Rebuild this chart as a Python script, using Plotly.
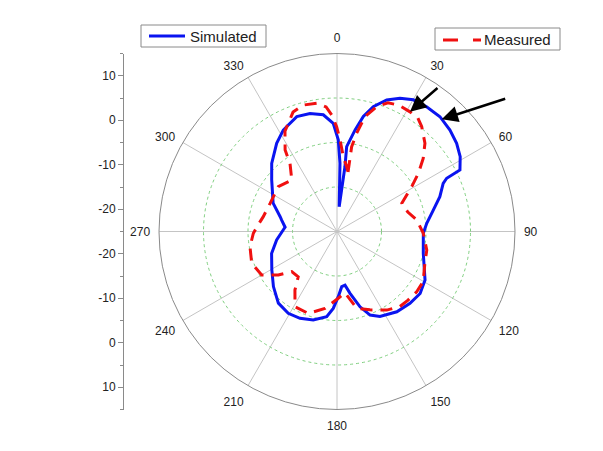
import plotly.graph_objects as go

# Radial scale (dB): centre and outer ring
R_MIN = -25
R_MAX = 15
GRID_R = [-15, -5, 5]

ANGLE_TICKS = [0, 30, 60, 90, 120, 150, 180, 210, 240, 270, 300, 330]

# Left axis (mirrored radial scale)
LEFT_TICK_OFFSETS = [35, 25, 15, 5, -5, -15, -25, -35]
LEFT_TICK_TEXT = ["10", "0", "-10", "-20", "-20", "-10", "0", "10"]
LEFT_MINOR = [-40, -30, -20, -10, 0, 10, 20, 30, 40]

# Simulated pattern (theta deg, dB)
SIM_THETA = [5, 7.0, 6.5, 10.1, 12.9, 16.2, 20.7, 25.3, 30.1, 35.7, 41.9, 48.1,
             53.6, 58.7, 63.4, 64.1, 65.6, 71.3, 77.4, 84.8, 91.2, 104.2, 118.9,
             126.7, 134.5, 143.3, 153.2, 158.4, 163.0, 168.1, 171.5, 175.1, 178.9,
             182.8, 186.9, 195.0, 203.1, 210.8, 219.3, 229.1, 239.5, 251.5, 262.0,
             271.6, 274.7, 281.7, 284.6, 293.9, 308.3, 316.2, 325.6, 332.1, 340.7,
             347.1, 353.3, 358.0, 0.8, 2.5, 5]
SIM_R = [-19.4, -10.3, -5.8, -1.8, 1.5, 4.2, 6.6, 8.1, 9.2, 9.5, 9.65, 9.1,
         8.4, 7.4, 5.9, 2.4, 1.2, -0.6, -2.8, -4.75, -5.6, -5.0, -2.4,
         -1.7, -2.0, -2.5, -3.6, -4.8, -7.3, -10.8, -12.8, -12.55, -10.35,
         -7.7, -5.7, -4.4, -3.8, -3.6, -4.2, -6.1, -8.0, -9.5, -11.3,
         -12.9, -13.3, -12.3, -11.8, -9.3, -6.3, -3.8, -1.0, 0.8, 2.35,
         2.2, 1.4, -0.7, -4.4, -9.65, -19.4]

# Measured pattern (theta deg, dB)
MEAS_THETA = [10.5, 9.8, 11.3, 13.7, 17.6, 21.6, 25.9, 31.4, 35.5, 38.9, 44.9,
              49.7, 54.4, 59.0, 66.4, 74.6, 81.8, 91.2, 101.7, 109.9, 120.2,
              127.1, 134.0, 140.0, 147.7, 157.2, 165.6, 172.6, 178.9, 188.9,
              199.3, 209.2, 215.7, 220.6, 228.4, 233.5, 240.0, 249.6, 260.1,
              268.8, 274.7, 281.4, 292.8, 307.3, 318.7, 325.4, 327.5, 332.6,
              339.8, 345.1, 351.0, 355.0, 357.4, 359.8, 1.9, 4.8, 8.5, 10.5]
MEAS_R = [-11.4, -5.65, -2.5, 1.55, 4.4, 6.1, 6.6, 6.5, 6.3, 5.3, 3.0,
          0.4, -2.5, -5.4, -9.1, -8.5, -6.9, -5.6, -4.4, -4.0, -2.6,
          -2.55, -2.8, -3.0, -4.1, -5.9, -7.2, -11.1, -10.0, -7.5,
          -5.5, -5.65, -8.8, -11.6, -11.4, -8.6, -5.45, -4.55, -5.15,
          -6.2, -7.2, -8.1, -8.7, -8.4, -9.6, -6.4, -3.3, 0.4,
          3.6, 4.4, 4.2, 3.1, 1.2, -1.45, -4.4, -8.1, -10.3, -11.4]

SERIES_NAMES = ["Simulated", "Measured"]
BLUE = "#0a14f0"
RED = "#f01010"

# page body has an 8px margin; figure sized to fit the 603x451 window
OX, OY = 8, 8
W, H = 603 - 2 * OX, 451 - 2 * OY
CX, CY, RAD = 337, 231.5, 178
FONT = "Liberation Sans, Arial, sans-serif"


def px(x):
    return (x - OX) / W


def py(y):
    return 1 - (y - OY) / H


fig = go.Figure()
fig.add_trace(go.Scatterpolar(theta=SIM_THETA, r=SIM_R, mode="lines", name=SERIES_NAMES[0],
                              line=dict(color=BLUE, width=3), showlegend=False))
fig.add_trace(go.Scatterpolar(theta=MEAS_THETA, r=MEAS_R, mode="lines", name=SERIES_NAMES[1],
                              line=dict(color=RED, width=3, dash="12px,8px"),
                              showlegend=False))
# helper so the cartesian (left) axis is rendered
fig.add_trace(go.Scatter(x=[None], y=[None], showlegend=False, hoverinfo="skip"))

shapes = [
    # legend boxes
    dict(type="rect", xref="paper", yref="paper", x0=px(141), x1=px(266), y0=py(47), y1=py(25),
         line=dict(color="#8a8a8a", width=1), fillcolor="white"),
    dict(type="line", xref="paper", yref="paper", x0=px(149), x1=px(185), y0=py(36), y1=py(36),
         line=dict(color=BLUE, width=3)),
    dict(type="rect", xref="paper", yref="paper", x0=px(435), x1=px(560), y0=py(50), y1=py(28),
         line=dict(color="#8a8a8a", width=1), fillcolor="white"),
    dict(type="line", xref="paper", yref="paper", x0=px(443), x1=px(481), y0=py(40), y1=py(40),
         line=dict(color=RED, width=3, dash="15px,15px")),
]

annotations = [
    dict(x=px(188), y=py(36), xref="paper", yref="paper", text=SERIES_NAMES[0],
         showarrow=False, xanchor="left", yanchor="middle",
         font=dict(family=FONT, size=15, color="#222")),
    dict(x=px(482), y=py(39.5), xref="paper", yref="paper", text=SERIES_NAMES[1],
         showarrow=False, xanchor="left", yanchor="middle",
         font=dict(family=FONT, size=15, color="#222")),
    dict(x=px(410), y=py(111.7), xref="paper", yref="paper", text="",
         showarrow=True, ax=29, ay=-25, arrowhead=2, arrowsize=1.3,
         arrowwidth=2.5, arrowcolor="black"),
    dict(x=px(441.7), y=py(119.3), xref="paper", yref="paper", text="",
         showarrow=True, ax=65, ay=-21, arrowhead=2, arrowsize=1.3,
         arrowwidth=2.5, arrowcolor="black"),
]

fig.update_layout(
    width=W, height=H, autosize=False,
    margin=dict(l=0, r=0, t=0, b=0),
    paper_bgcolor="white", plot_bgcolor="rgba(0,0,0,0)",
    font=dict(family=FONT, size=12, color="#222"),
    showlegend=False,
    polar=dict(
        domain=dict(x=[px(CX - RAD), px(CX + RAD)],
                    y=[py(CY + RAD), py(CY - RAD)]),
        bgcolor="white",
        radialaxis=dict(range=[R_MIN, R_MAX], tickvals=GRID_R, showticklabels=False,
                        ticks="", showline=False, gridcolor="#7fcf7f", griddash="dot",
                        gridwidth=1),
        angularaxis=dict(direction="clockwise", rotation=90, tickvals=ANGLE_TICKS,
                         ticktext=[str(a) for a in ANGLE_TICKS], ticks="outside",
                         ticklen=6, tickcolor="rgba(0,0,0,0)",
                         showline=True, linecolor="#8a8a8a", linewidth=1,
                         gridcolor="#c4c4c4", gridwidth=1,
                         tickfont=dict(family=FONT, size=12, color="#222")),
    ),
    xaxis=dict(visible=False, domain=[0.2, 0.21]),
    yaxis=dict(domain=[py(CY + RAD), py(CY - RAD)],
               range=[-(R_MAX - R_MIN), R_MAX - R_MIN], anchor="free",
               position=px(123), side="left", showline=True, linecolor="#8a8a8a",
               linewidth=1, ticks="outside", ticklen=5, tickcolor="#8a8a8a",
               tickvals=LEFT_TICK_OFFSETS, ticktext=LEFT_TICK_TEXT, showgrid=False,
               zeroline=False, tickfont=dict(family=FONT, size=12, color="#222"),
               minor=dict(tickvals=LEFT_MINOR, ticks="outside", ticklen=3,
                          tickcolor="#8a8a8a", showgrid=False)),
    shapes=shapes,
    annotations=annotations,
)

fig.write_html("out.html")
